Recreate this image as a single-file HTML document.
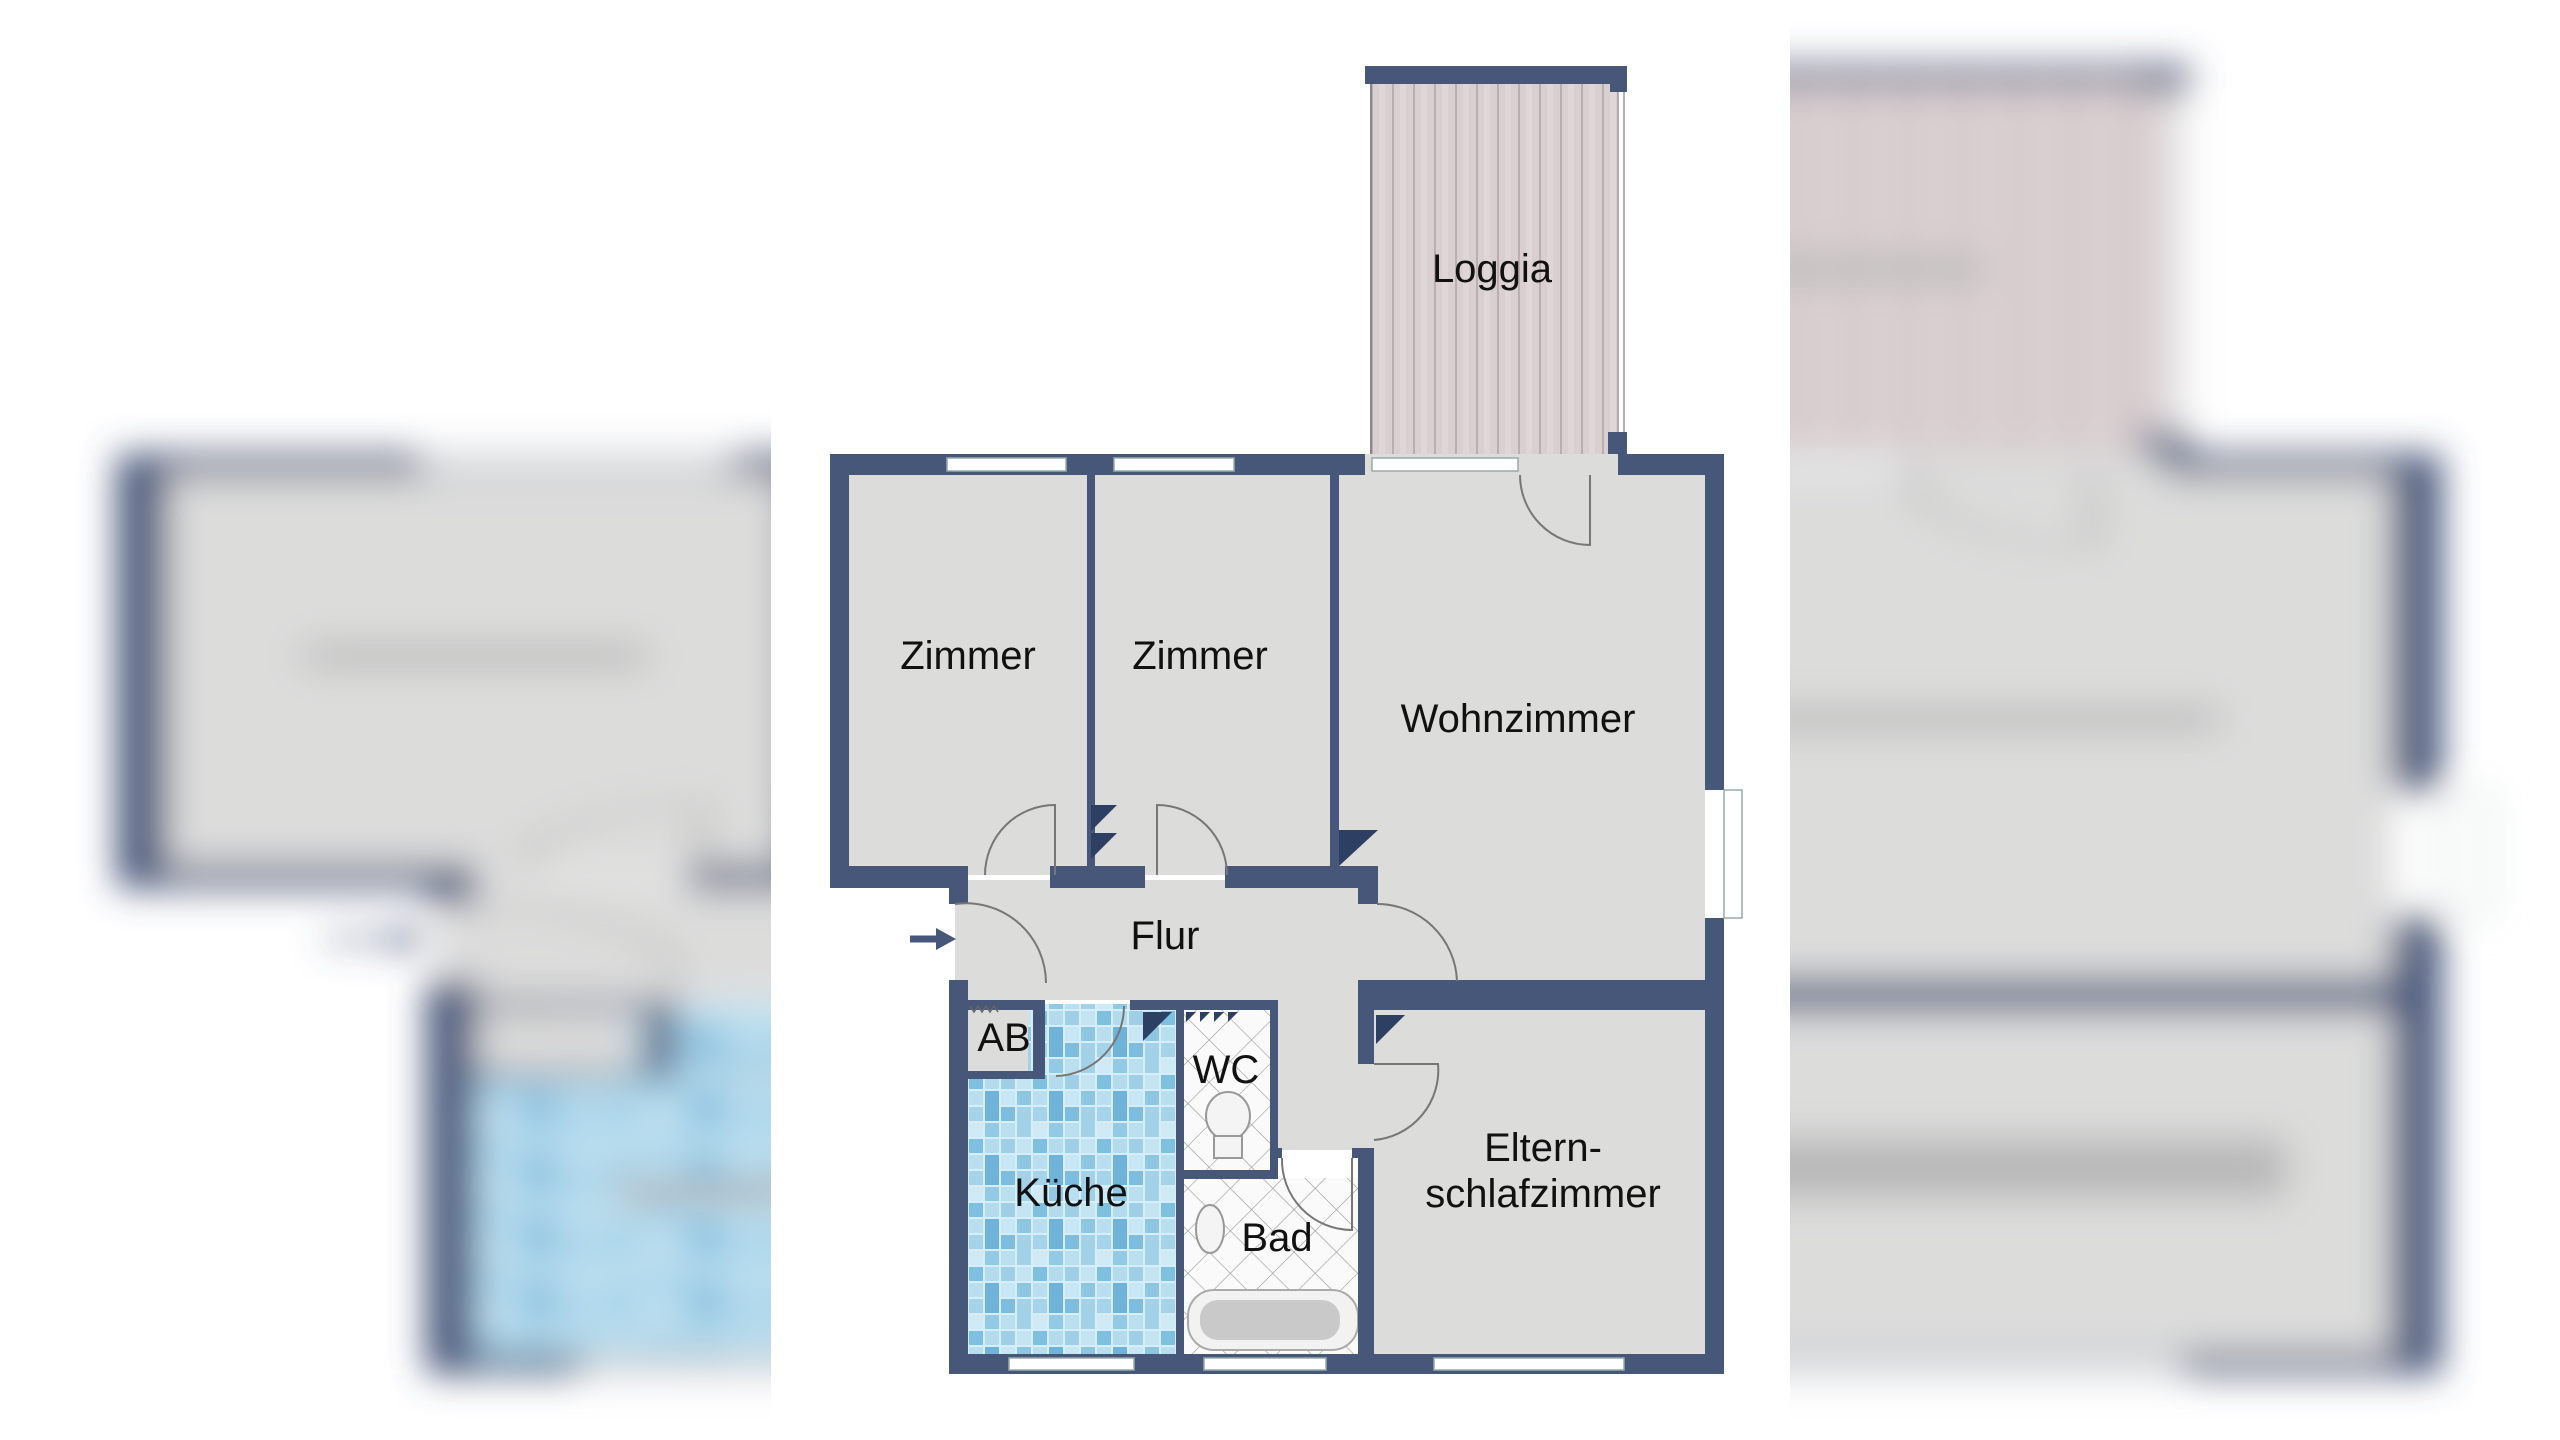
<!DOCTYPE html>
<html><head><meta charset="utf-8"><style>
html,body{margin:0;padding:0;background:#fff;}
svg{display:block}
text{font-family:"Liberation Sans",sans-serif;fill:#111;}
</style></head><body>
<svg width="2560" height="1440" viewBox="0 0 2560 1440" xmlns="http://www.w3.org/2000/svg">
<defs>
<pattern id="tiles" x="968" y="1010" width="64" height="64" patternUnits="userSpaceOnUse">
<rect width="64" height="64" fill="#d6eef7"/>
<rect x="1" y="1" width="14" height="14" fill="#7fbfe0"/><rect x="17" y="1" width="14" height="14" fill="#b5dced"/><rect x="33" y="1" width="14" height="14" fill="#9fcfe6"/><rect x="49" y="1" width="14" height="14" fill="#c4e4f2"/>
<rect x="1" y="17" width="14" height="14" fill="#b8def0"/><rect x="17" y="17" width="14" height="30" fill="#6fb3d8"/><rect x="33" y="17" width="14" height="14" fill="#c8e6f3"/><rect x="49" y="17" width="14" height="14" fill="#8ec6e2"/>
<rect x="1" y="33" width="14" height="14" fill="#a6d3e9"/><rect x="33" y="33" width="14" height="14" fill="#7ebde0"/><rect x="49" y="33" width="14" height="30" fill="#a2d1e8"/>
<rect x="1" y="49" width="14" height="14" fill="#cfe9f5"/><rect x="17" y="49" width="14" height="14" fill="#92c9e4"/><rect x="33" y="49" width="14" height="14" fill="#b9dff0"/>
</pattern>
<pattern id="diam" width="30" height="30" patternUnits="userSpaceOnUse" patternTransform="rotate(45)">
<rect width="30" height="30" fill="#fafafa"/><path d="M0 0H30M0 0V30" stroke="#9a9a9a" stroke-width="1.2"/>
</pattern>
<pattern id="wood" x="1371" width="21" height="400" patternUnits="userSpaceOnUse">
<rect width="21" height="400" fill="#d9cfd1"/><rect x="0" width="2" height="400" fill="#b9aeb1"/><rect x="8" width="6" height="400" fill="#e2dadb" opacity=".6"/>
</pattern>
<filter id="bl" x="-5%" y="-5%" width="110%" height="110%"><feGaussianBlur stdDeviation="18"/></filter>
<g id="plan">
<rect x="1371" y="84" width="247" height="370" fill="url(#wood)"/>
<line x1="1371" y1="84" x2="1371" y2="454" stroke="#888" stroke-width="2"/>
<rect x="1618" y="84" width="6" height="370" fill="#fff" stroke="#999" stroke-width="1.5"/>
<rect x="1365" y="66" width="262" height="18" fill="#47577a"/>
<rect x="1610" y="66" width="17" height="26" fill="#47577a"/>
<rect x="1608" y="432" width="19" height="26" fill="#47577a"/>
<rect x="849" y="475" width="481" height="400" fill="#dcdcdb"/>
<rect x="1339" y="475" width="366" height="516" fill="#dcdcdb"/>
<rect x="1360" y="454" width="260" height="22" fill="#dcdcdb"/>
<rect x="955" y="880" width="420" height="120" fill="#dcdcdb"/>
<rect x="1275" y="990" width="110" height="160" fill="#dcdcdb"/>
<rect x="1374" y="1010" width="331" height="345" fill="#dcdcdb"/>
<rect x="968" y="1004" width="60" height="70" fill="#dcdcdb"/>
<rect x="968" y="1074" width="208" height="282" fill="url(#tiles)"/>
<rect x="1028" y="1004" width="148" height="72" fill="url(#tiles)"/>
<rect x="1184" y="1010" width="86" height="160" fill="url(#diam)"/>
<rect x="1184" y="1178" width="190" height="178" fill="url(#diam)"/>
<rect x="1188" y="1290" width="170" height="60" rx="26" fill="#f2f2f2" stroke="#aaa" stroke-width="2"/>
<rect x="1200" y="1300" width="140" height="40" rx="18" fill="#c9c9c9"/>
<ellipse cx="1228" cy="1116" rx="22" ry="24" fill="#f4f4f4" stroke="#999" stroke-width="2"/>
<rect x="1214" y="1136" width="28" height="22" fill="#f4f4f4" stroke="#999" stroke-width="2"/>
<ellipse cx="1210" cy="1229" rx="14" ry="24" fill="#f4f4f4" stroke="#999" stroke-width="2"/>
<g fill="#47577a">
<rect x="830" y="454" width="535" height="21"/>
<rect x="1618" y="454" width="106" height="21"/>
<rect x="830" y="454" width="19" height="434"/>
<rect x="830" y="866" width="138" height="22"/>
<rect x="1050" y="866" width="95" height="22"/>
<rect x="1225" y="866" width="153" height="22"/>
<rect x="1705" y="454" width="19" height="336"/>
<rect x="1705" y="918" width="19" height="456"/>
<rect x="949" y="878" width="19" height="26"/>
<rect x="949" y="980" width="19" height="394"/>
<rect x="949" y="1354" width="775" height="20"/>
<rect x="1087" y="475" width="8" height="400"/>
<rect x="1330" y="475" width="9" height="400"/>
<rect x="1358" y="866" width="20" height="38"/>
<rect x="1358" y="980" width="366" height="12"/>
<rect x="1374" y="991" width="331" height="19"/>
<rect x="1358" y="980" width="16" height="84"/>
<rect x="1358" y="1148" width="16" height="210"/>
<rect x="968" y="1000" width="65" height="10"/>
<rect x="1130" y="1000" width="147" height="10"/>
<rect x="1033" y="1000" width="12" height="76"/>
<rect x="968" y="1071" width="77" height="8"/>
<rect x="1176" y="1000" width="8" height="356"/>
<rect x="1270" y="1000" width="8" height="175"/>
<rect x="1184" y="1170" width="94" height="9"/>
<rect x="1270" y="1148" width="12" height="10"/>
<rect x="1352" y="1148" width="22" height="10"/>
</g>
<g fill="#fff" stroke="#9aa" stroke-width="1.5">
<rect x="947" y="458" width="119" height="13"/>
<rect x="1114" y="458" width="120" height="13"/>
<rect x="1372" y="458" width="146" height="13"/>
<rect x="1009" y="1358" width="125" height="12"/>
<rect x="1204" y="1358" width="122" height="12"/>
<rect x="1434" y="1358" width="190" height="12"/>
<rect x="1724" y="790" width="18" height="128"/>
</g>
<g fill="none" stroke="#777" stroke-width="2">
<path d="M985 875 A70 70 0 0 1 1055 805 V875"/>
<path d="M1227 875 A70 70 0 0 0 1157 805 V875"/>
<path d="M1457 981 A80 80 0 0 0 1377 904"/>
<path d="M1056 1076 A70 70 0 0 0 1124 1006"/>
<path d="M955 904 A80 80 0 0 1 1046 983"/>
<path d="M1590 475 V545 A70 70 0 0 1 1520 475"/>
<path d="M1374 1064 H1438 A70 70 0 0 1 1374 1140"/>
<path d="M1352 1158 V1230 A70 70 0 0 1 1282 1158"/>
</g>
<g fill="#2d3f62">
<path d="M1091 805 H1117 L1091 831Z"/><path d="M1091 833 H1117 L1091 859Z"/>
<path d="M1339 830 H1378 L1339 866Z"/>
<path d="M1376 1015 H1405 L1376 1044Z"/>
<path d="M1143 1012 H1172 L1143 1041Z"/>
<path d="M1186 1012 h10 l-10 10Z M1200 1012 h10 l-10 10Z M1214 1012 h10 l-10 10Z M1228 1012 h10 l-10 10Z"/>
</g>
<path d="M970 1006 l4 6 4-6 4 6 4-6 4 6 4-6 4 6" stroke="#666" fill="none" stroke-width="1.5"/>
<path d="M910 939 H940" stroke="#47577a" stroke-width="7"/>
<path d="M936 928 L956 939 L936 950Z" fill="#47577a"/>
</g>
<g id="blobs" fill="#b8b8b8">
<rect x="900" y="645" width="135" height="22" rx="10"/><rect x="1135" y="645" width="135" height="22" rx="10"/>
<rect x="1400" y="708" width="240" height="22" rx="10"/><rect x="1130" y="925" width="70" height="22" rx="10"/>
<rect x="1020" y="1181" width="100" height="22" rx="10"/><rect x="1425" y="1138" width="240" height="60" rx="10"/>
<rect x="1440" y="258" width="110" height="22" rx="10"/>
</g>
</defs>
<g filter="url(#bl)">
<g transform="scale(2.6,1) translate(-785,0)">
<use href="#plan"/><use href="#blobs"/>
</g>
</g>
<rect x="771" y="0" width="1019" height="1440" fill="#fff"/>
<use href="#plan"/>
<g font-size="40" text-anchor="middle" dominant-baseline="central">
<text x="1492" y="269">Loggia</text>
<text x="968" y="656">Zimmer</text>
<text x="1200" y="656">Zimmer</text>
<text x="1518" y="719">Wohnzimmer</text>
<text x="1165" y="936">Flur</text>
<text x="1004" y="1038">AB</text>
<text x="1226" y="1070">WC</text>
<text x="1071" y="1193">Küche</text>
<text x="1277" y="1238">Bad</text>
<text x="1543" y="1148">Eltern-</text>
<text x="1543" y="1194">schlafzimmer</text>
</g>
</svg>
</body></html>
